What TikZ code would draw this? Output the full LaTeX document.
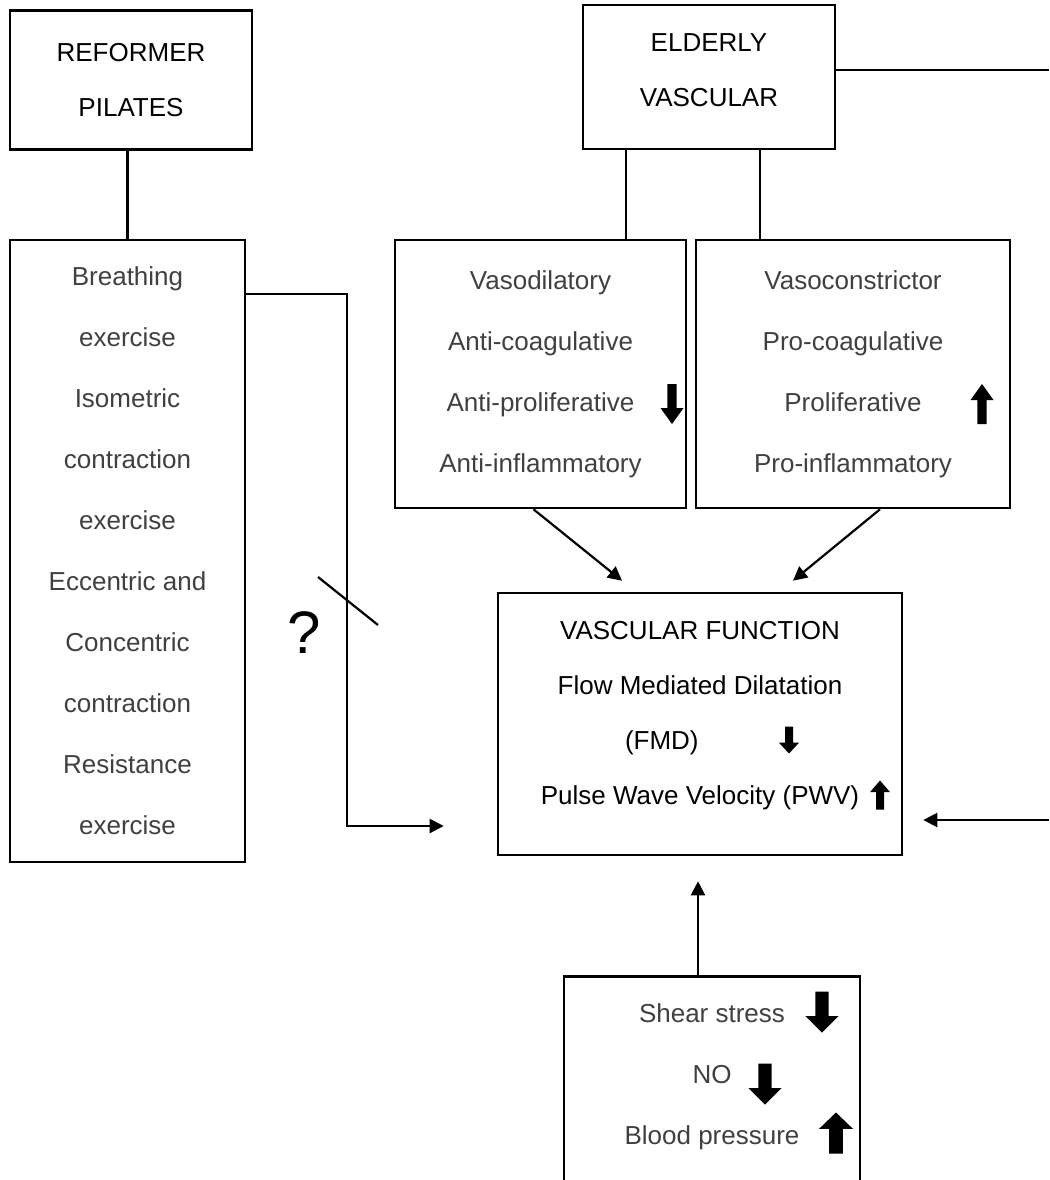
\documentclass[tikz,border=0pt]{standalone}
\usepackage{fontspec}
\setmainfont{Liberation Sans}
\usetikzlibrary{arrows.meta,positioning,calc}

\tikzset{
  box/.style={draw, line width=2.6pt, align=center, inner sep=0pt},
  link/.style={line width=2.2pt},
  arr/.style={link, -{Triangle[length=14pt,width=14pt]}},
  txt/.style={font=\fontsize{26}{61}\selectfont, text=black!75},
  heading/.style={font=\fontsize{26}{55}\selectfont},
  pics/blockdown/.style={code={
    \fill (-0.2,-0.5) -- (0.2,-0.5) -- (0.2,0.1) -- (0.5,0.1) -- (0,0.5) -- (-0.5,0.1) -- (-0.2,0.1) -- cycle;}},
  pics/blockup/.style={code={
    \fill (-0.2,0.5) -- (0.2,0.5) -- (0.2,-0.1) -- (0.5,-0.1) -- (0,-0.5) -- (-0.5,-0.1) -- (-0.2,-0.1) -- cycle;}},
}

\begin{document}
\begin{tikzpicture}[x=1pt,y=-1pt]
  \useasboundingbox (0,0) rectangle (1049,1180);

  % Left column: the exercise
  \node[box, heading, minimum width=242pt, minimum height=139pt] (reformer) at (131,80) {REFORMER\\PILATES};
  \node[box, txt, minimum width=235pt, minimum height=622pt] (exer) at (127.5,551)
    {Breathing\\exercise\\Isometric\\contraction\\exercise\\Eccentric and\\Concentric\\contraction\\Resistance\\exercise};
  \draw[link] (exer.north) -- (exer.north |- reformer.south);

  % Top right: the ageing vessel
  \node[box, heading, text depth=14pt, minimum width=252pt, minimum height=144pt] (elderly) at (709,77) {ELDERLY\\VASCULAR};
  \node[box, txt, minimum width=291pt, minimum height=268pt] (vasodil) at (540.5,374)
    {Vasodilatory\\Anti-coagulative\\Anti-proliferative\\Anti-inflammatory};
  \node[box, txt, minimum width=314pt, minimum height=268pt] (consti) at (853,374)
    {Vasoconstrictor\\Pro-coagulative\\Proliferative\\Pro-inflammatory};
  \draw[link] ([xshift=85.5pt]vasodil.north) -- ([xshift=85.5pt]vasodil.north |- elderly.south);
  \draw[link] ([xshift=-93pt]consti.north) -- ([xshift=-93pt]consti.north |- elderly.south);
  \pic[xscale=23, yscale=40] at (672,404) {blockdown};
  \pic[xscale=23, yscale=40] at (982,404) {blockup};

  % Centre: vascular function
  \node[box, heading, text depth=22pt, minimum width=404pt, minimum height=262pt] (vasc) at (700,724)
    {VASCULAR FUNCTION\\Flow Mediated Dilatation\\\makebox[150pt][l]{(FMD)}\\Pulse Wave Velocity (PWV)};
  \pic[xscale=20, yscale=27] at (789,740) {blockdown};
  \pic[xscale=20, yscale=29] at (880,795) {blockup};
  \draw[arr] ([xshift=-7pt]vasodil.south) -- ([xshift=-78pt,yshift=11pt]vasc.north);
  \draw[arr] ([xshift=27pt]consti.south) -- ([xshift=93pt,yshift=11pt]vasc.north);

  % Exercise link, interrupted
  \draw[arr] ([yshift=-55pt]exer.north east) -- ++(101,0) |- ([xshift=-53pt,yshift=-102pt]vasc.west);
  \draw[link] (318,577) -- (378,625);
  \node[font=\fontsize{60}{60}\selectfont] (qmark) at (304,633) {?};

  % Right edge
  \coordinate (edgetop) at (1049,70);
  \coordinate (edgebot) at (1049,820);
  \draw[link] ([yshift=7pt]elderly.east) -- (edgetop);
  \draw[arr] (edgebot) -- ([xshift=20pt,yshift=-96pt]vasc.east);

  % Bottom: haemodynamic stimuli
  \node[box, txt, text depth=16pt, anchor=north, minimum width=296pt, minimum height=212pt] (stim) at (712,975)
    {Shear stress\\NO\\Blood pressure};
  \pic[xscale=33, yscale=41] at (822,1012) {blockdown};
  \pic[xscale=33, yscale=41] at (765,1084) {blockdown};
  \pic[xscale=34, yscale=41] at (836,1133) {blockup};
  \draw[arr] ([xshift=-14pt]stim.north) -- ([xshift=-2pt,yshift=-25pt]vasc.south);
\end{tikzpicture}
\end{document}
